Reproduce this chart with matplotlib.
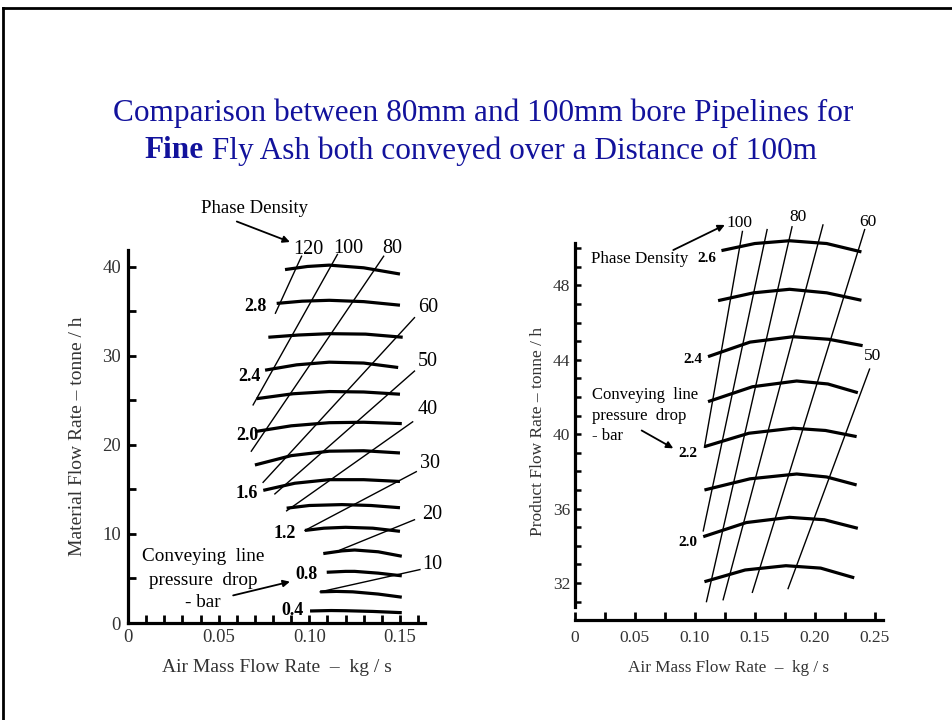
import numpy as np
import matplotlib; matplotlib.use("Agg")
import matplotlib.pyplot as plt

plt.rcParams["font.family"] = ["Liberation Serif", "DejaVu Serif"]

# ---- left chart (80 mm bore) ----
# conveying line pressure drop curves: bar -> (x points, y points)
left_dp = ["3.0", "2.8", "2.6", "2.4", "2.2", "2.0", "1.8", "1.6", "1.4", "1.2", "1.0", "0.8", "0.6", "0.4"]
left_cx = [
    [0.0866, 0.099, 0.111, 0.130, 0.150],
    [0.082, 0.096, 0.111, 0.130, 0.150],
    [0.0774, 0.094, 0.111, 0.131, 0.1515],
    [0.0756, 0.093, 0.111, 0.130, 0.149],
    [0.071, 0.091, 0.111, 0.130, 0.150],
    [0.070, 0.090, 0.111, 0.130, 0.151],
    [0.070, 0.090, 0.111, 0.130, 0.150],
    [0.0746, 0.092, 0.111, 0.130, 0.150],
    [0.0875, 0.100, 0.118, 0.134, 0.150],
    [0.0976, 0.108, 0.120, 0.135, 0.150],
    [0.1077, 0.118, 0.125, 0.138, 0.151],
    [0.1096, 0.120, 0.125, 0.138, 0.151],
    [0.106, 0.115, 0.124, 0.138, 0.151],
    [0.1004, 0.112, 0.120, 0.135, 0.151],
]
left_cy = [
    [39.7, 40.05, 40.2, 39.9, 39.2],
    [35.9, 36.15, 36.25, 36.1, 35.7],
    [32.1, 32.35, 32.5, 32.45, 32.1],
    [28.4, 29.0, 29.3, 29.2, 28.7],
    [25.2, 25.75, 26.0, 25.95, 25.7],
    [21.5, 22.15, 22.5, 22.55, 22.4],
    [17.75, 18.8, 19.3, 19.35, 19.1],
    [14.9, 15.7, 16.1, 16.1, 15.9],
    [12.9, 13.2, 13.3, 13.2, 12.95],
    [10.4, 10.65, 10.75, 10.65, 10.3],
    [7.8, 8.1, 8.2, 8.0, 7.5],
    [5.7, 5.8, 5.8, 5.6, 5.3],
    [3.5, 3.55, 3.5, 3.25, 2.9],
    [1.35, 1.4, 1.38, 1.3, 1.16],
]
# phase density lines: low end -> high end
left_pd = ["120", "100", "80", "60", "50", "40", "30", "20", "10"]
left_pd_x0 = [0.0813, 0.069, 0.068, 0.0745, 0.081, 0.0875, 0.0976, 0.117, 0.106]
left_pd_y0 = [34.8, 24.5, 19.3, 15.8, 14.5, 12.6, 10.4, 8.2, 3.5]
left_pd_x1 = [0.0957, 0.1155, 0.141, 0.158, 0.158, 0.157, 0.159, 0.158, 0.161]
left_pd_y1 = [41.2, 41.4, 41.2, 34.3, 28.3, 22.6, 17.0, 11.6, 6.0]
left_pd_lx = [0.0993, 0.1213, 0.146, 0.1655, 0.1655, 0.1655, 0.1666, 0.1677, 0.168]
left_pd_ly = [42.0, 42.1, 42.1, 35.4, 29.4, 24.0, 17.9, 12.2, 6.6]
left_dp_lbl = ["2.8", "2.4", "2.0", "1.6", "1.2", "0.8", "0.4"]
left_dp_lx = [0.0704, 0.0667, 0.066, 0.0655, 0.0866, 0.0985, 0.091]
left_dp_ly = [35.5, 27.7, 21.1, 14.6, 10.0, 5.4, 1.46]

# ---- right chart (100 mm bore) ----
right_dp = ["2.6", "2.5", "2.4", "2.3", "2.2", "2.1", "2.0", "1.9"]
right_cx = [
    [0.1222, 0.150, 0.179, 0.210, 0.239],
    [0.1194, 0.149, 0.179, 0.210, 0.239],
    [0.111, 0.146, 0.182, 0.212, 0.240],
    [0.111, 0.148, 0.185, 0.211, 0.236],
    [0.108, 0.145, 0.182, 0.209, 0.235],
    [0.108, 0.146, 0.185, 0.210, 0.235],
    [0.107, 0.143, 0.179, 0.208, 0.236],
    [0.108, 0.142, 0.176, 0.205, 0.233],
]
right_cy = [
    [49.87, 50.25, 50.4, 50.25, 49.8],
    [47.18, 47.6, 47.79, 47.6, 47.2],
    [44.17, 44.95, 45.24, 45.1, 44.76],
    [41.75, 42.55, 42.86, 42.7, 42.23],
    [39.33, 40.05, 40.32, 40.2, 39.87],
    [37.0, 37.6, 37.86, 37.7, 37.27],
    [34.49, 35.25, 35.53, 35.4, 34.94],
    [32.07, 32.7, 32.93, 32.8, 32.28],
]
right_pd = ["100", "90", "80", "70", "60", "50"]
right_pd_x0 = [0.108, 0.107, 0.1097, 0.1236, 0.148, 0.1778]
right_pd_y0 = [39.3, 34.8, 31.0, 31.1, 31.5, 31.7]
right_pd_x1 = [0.1397, 0.1603, 0.1811, 0.2069, 0.2417, 0.2458]
right_pd_y1 = [50.9, 51.0, 51.15, 51.25, 51.0, 43.5]
right_pd_lbl = ["100", "80", "60", "50"]
right_pd_lx = [0.1375, 0.186, 0.2444, 0.2486]
right_pd_ly = [51.34, 51.7, 51.4, 44.2]
right_dp_lbl = ["2.6", "2.4", "2.2", "2.0"]
right_dp_lx = [0.1097, 0.098, 0.0944, 0.0944]
right_dp_ly = [49.45, 44.0, 38.97, 34.2]

W, H = 953, 720
fig = plt.figure(figsize=(W / 100, H / 100), dpi=100)
TC = "#333333"

def px(x0, y0, x1, y1):
    return [x0 / W, 1 - y1 / H, (x1 - x0) / W, (y1 - y0) / H]

def style(ax, fs):
    for s in ["top", "right"]:
        ax.spines[s].set_visible(False)
    for s in ["left", "bottom"]:
        ax.spines[s].set_linewidth(2.3)
    ax.tick_params(which="both", direction="in", width=2, colors="black",
                   labelcolor=TC, labelsize=fs, length=6)
    ax.patch.set_alpha(0)

arrow = dict(arrowstyle="-|>", lw=1.3, color="black", mutation_scale=10, shrinkA=0, shrinkB=0)

# left axes
axL = fig.add_axes(px(128, 250, 425, 623))
axL.set_xlim(0, 0.1638); axL.set_ylim(0, 41.9)
style(axL, 13.5)
axL.set_xticks([0, 0.05, 0.10, 0.15], ["0", "0.05", "0.10", "0.15"])
axL.set_xticks(np.arange(0.01, 0.165, 0.01), minor=True)
axL.set_yticks([0, 10, 20, 30, 40], ["0", "10", "20", "30", "40"])
axL.set_yticks([5, 15, 25, 35], minor=True)
axL.tick_params(axis="x", pad=4)
axL.tick_params(axis="y", pad=5)
for xs, ys in zip(left_cx, left_cy):
    axL.plot(xs, ys, color="black", lw=2.3, solid_capstyle="butt")
for x0, y0, x1, y1 in zip(left_pd_x0, left_pd_y0, left_pd_x1, left_pd_y1):
    axL.plot([x0, x1], [y0, y1], color="black", lw=1.0)
for t, x, y in zip(left_pd, left_pd_lx, left_pd_ly):
    axL.text(x, y, t, ha="center", va="center", fontsize=14.5, clip_on=False)
for t, x, y in zip(left_dp_lbl, left_dp_lx, left_dp_ly):
    axL.text(x, y, t, ha="center", va="center", fontsize=13, fontweight="bold")
axL.text(0.070, 46.6, "Phase Density", ha="center", va="center", fontsize=13.5, clip_on=False)
axL.annotate("", xy=(0.0893, 42.8), xytext=(0.060, 45.1), annotation_clip=False, arrowprops=arrow)
for t, y in zip(["Conveying  line", "pressure  drop", "- bar"], [7.5, 4.8, 2.25]):
    axL.text(0.0414, y, t, ha="center", va="center", fontsize=13.8)
axL.annotate("", xy=(0.0893, 4.64), xytext=(0.058, 3.1), arrowprops=arrow)
axL.set_xlabel("Air Mass Flow Rate  \u2013  kg / s", fontsize=14, color=TC, labelpad=10)
axL.set_ylabel("Material Flow Rate \u2013 tonne / h", fontsize=14, color=TC, labelpad=12)

# right axes
axR = fig.add_axes(px(575, 242.6, 883, 620.2))
axR.set_xlim(0, 0.257); axR.set_ylim(30, 50.3)
style(axR, 12.5)
axR.spines["left"].set_bounds(30.7, 50.3)
axR.set_xticks([0, 0.05, 0.10, 0.15, 0.20, 0.25], ["0", "0.05", "0.10", "0.15", "0.20", "0.25"])
axR.set_xticks(np.arange(0.025, 0.26, 0.05), minor=True)
axR.set_yticks([32, 36, 40, 44, 48], ["32", "36", "40", "44", "48"])
axR.set_yticks([y for y in range(31, 51) if y % 4], minor=True)
axR.tick_params(axis="y", which="both", length=4, width=1.8)
axR.tick_params(axis="x", which="both", length=6, pad=7)
for xs, ys in zip(right_cx, right_cy):
    axR.plot(xs, ys, color="black", lw=2.3, solid_capstyle="butt", clip_on=False)
for x0, y0, x1, y1 in zip(right_pd_x0, right_pd_y0, right_pd_x1, right_pd_y1):
    axR.plot([x0, x1], [y0, y1], color="black", lw=1.0, clip_on=False)
for t, x, y in zip(right_pd_lbl, right_pd_lx, right_pd_ly):
    axR.text(x, y, t, ha="center", va="center", fontsize=12.5, clip_on=False)
for t, x, y in zip(right_dp_lbl, right_dp_lx, right_dp_ly):
    axR.text(x, y, t, ha="center", va="center", fontsize=11, fontweight="bold")
axR.text(0.054, 49.4, "Phase Density", ha="center", va="center", fontsize=12.3)
axR.annotate("", xy=(0.125, 51.25), xytext=(0.082, 49.9), annotation_clip=False, arrowprops=arrow)
for t, y in zip(["Conveying  line", "pressure  drop", "- bar"], [42.1, 41.0, 39.9]):
    axR.text(0.014, y, t, ha="left", va="center", fontsize=12)
axR.annotate("", xy=(0.082, 39.24), xytext=(0.0556, 40.2), arrowprops=arrow)
axR.set_xlabel("Air Mass Flow Rate  \u2013  kg / s", fontsize=12.3, color=TC, labelpad=10)
axR.set_ylabel("Product Flow Rate \u2013 tonne / h", fontsize=12.5, color=TC, labelpad=5)

# title, line 2 mixes bold and regular
blue = "#12129c"
fig.text(0.5065, 1 - 113 / H, "Comparison between 80mm and 100mm bore Pipelines for",
         ha="center", va="center", fontsize=22.5, color=blue)
t1 = fig.text(0, 1 - 151 / H, "Fine", ha="left", va="center", fontsize=22.5,
              color=blue, fontweight="bold")
t2 = fig.text(0, 1 - 151 / H, " Fly Ash both conveyed over a Distance of 100m",
              ha="left", va="center", fontsize=22.5, color=blue)
fig.canvas.draw()
r = fig.canvas.get_renderer()
w1 = t1.get_window_extent(r).width
w2 = t2.get_window_extent(r).width
x0 = 481 - (w1 + w2) / 2
t1.set_x(x0 / W)
t2.set_x((x0 + w1) / W)

# slide frame
fig.add_artist(plt.Line2D([3 / W, 3 / W], [0, 1 - 8 / H], color="black", lw=2))
fig.add_artist(plt.Line2D([3 / W, 1], [1 - 8 / H, 1 - 8 / H], color="black", lw=2))

fig.savefig("out.png", dpi=100)
